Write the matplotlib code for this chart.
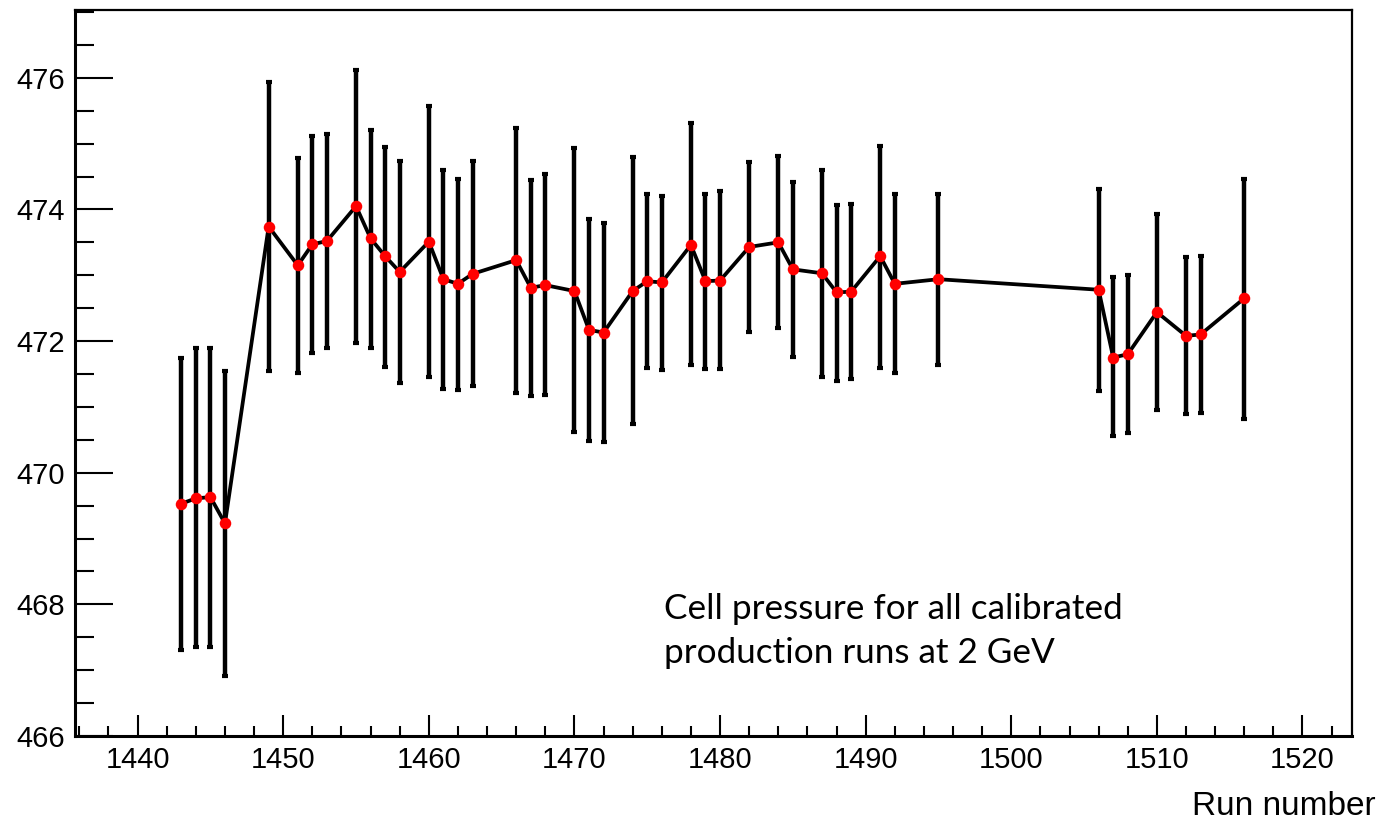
import matplotlib
matplotlib.use("Agg")
import matplotlib.pyplot as plt
from matplotlib.ticker import MultipleLocator
import numpy as np

runs = [1443, 1444, 1445, 1446, 1449, 1451, 1452, 1453, 1455, 1456, 1457, 1458,
        1460, 1461, 1462, 1463, 1466, 1467, 1468, 1470, 1471, 1472, 1474, 1475,
        1476, 1478, 1479, 1480, 1482, 1484, 1485, 1487, 1488, 1489, 1491, 1492,
        1495, 1506, 1507, 1508, 1510, 1512, 1513, 1516]
pressure = [469.53, 469.61, 469.63, 469.23, 473.74, 473.15, 473.47, 473.52, 474.05, 473.56, 473.29, 473.05,
            473.51, 472.94, 472.87, 473.02, 473.23, 472.81, 472.85, 472.76, 472.17, 472.13, 472.76, 472.91,
            472.89, 473.46, 472.91, 472.92, 473.43, 473.50, 473.09, 473.03, 472.74, 472.75, 473.29, 472.87,
            472.94, 472.78, 471.75, 471.80, 472.44, 472.08, 472.10, 472.65]
bar_low = [467.31, 467.35, 467.35, 466.91, 471.55, 471.52, 471.82, 471.89, 471.97, 471.90, 471.61, 471.37,
           471.46, 471.27, 471.25, 471.32, 471.21, 471.17, 471.18, 470.62, 470.48, 470.46, 470.74, 471.59,
           471.56, 471.63, 471.58, 471.57, 472.14, 472.20, 471.76, 471.46, 471.40, 471.42, 471.59, 471.52,
           471.63, 471.24, 470.56, 470.60, 470.96, 470.89, 470.90, 470.82]
bar_high = [471.75, 471.89, 471.90, 471.55, 475.94, 474.78, 475.11, 475.14, 476.12, 475.20, 474.95, 474.73,
            475.57, 474.60, 474.47, 474.74, 475.24, 474.44, 474.54, 474.93, 473.86, 473.80, 474.80, 474.23,
            474.20, 475.31, 474.23, 474.28, 474.72, 474.81, 474.42, 474.60, 474.07, 474.09, 474.97, 474.23,
            474.24, 474.31, 472.98, 473.00, 473.93, 473.27, 473.30, 474.47]

x_label = "Run number"
note = "Cell pressure for all calibrated\nproduction runs at 2 GeV"

x = np.array(runs, dtype=float)
y = np.array(pressure)
yerr = np.vstack([y - np.array(bar_low), np.array(bar_high) - y])

fig = plt.figure(figsize=(13.87, 8.24), dpi=100)
ax = fig.add_axes([75 / 1387, 88 / 824, (1352 - 75) / 1387, (736 - 10) / 824])

ax.plot(x, y, color="black", lw=2.7, zorder=2)
ax.errorbar(x, y, yerr=yerr, fmt="none", ecolor="black", elinewidth=3.2,
            capsize=2.0, capthick=3.0, zorder=3)
ax.plot(x, y, "o", color="red", markersize=8.3, markeredgewidth=0, zorder=4)

ax.set_xlim(1435.7, 1523.4)
ax.set_ylim(466.0, 477.03)

ax.xaxis.set_major_locator(MultipleLocator(10))
ax.xaxis.set_minor_locator(MultipleLocator(2))
ax.yaxis.set_major_locator(MultipleLocator(2))
ax.yaxis.set_minor_locator(MultipleLocator(0.5))

ax.tick_params(axis="x", which="major", direction="in", length=15, width=1.5,
               labelsize=21, pad=7, top=False)
ax.tick_params(axis="x", which="minor", direction="in", length=7.5, width=1.5, top=False)
ax.tick_params(axis="y", which="major", direction="in", length=27.5, width=1.5,
               labelsize=21, pad=7, right=False)
ax.tick_params(axis="y", which="minor", direction="in", length=13.5, width=1.5, right=False)
for lab in ax.get_xticklabels() + ax.get_yticklabels():
    lab.set_fontfamily("Liberation Sans")

for s in ax.spines.values():
    s.set_linewidth(1.6)
ax.spines["bottom"].set_linewidth(2.2)
ax.spines["left"].set_linewidth(2.2)

fig.text(1376 / 1387, 1 - 815 / 824, x_label, ha="right", va="baseline",
         fontsize=24, family="Liberation Sans")

ax.text(0.461, 0.197, note, transform=ax.transAxes, ha="left", va="top",
        fontsize=25.3, family="Lato", linespacing=1.45)

fig.savefig("out.png", dpi=100)
